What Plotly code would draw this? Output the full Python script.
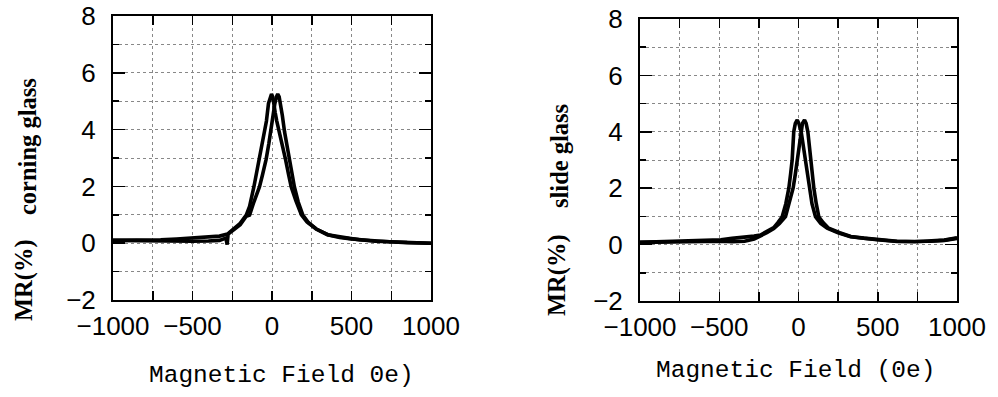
import plotly.graph_objects as go

# ---------------- data ----------------
# Left panel: corning glass, two field-sweep branches
left_a_field = [-1000, -900, -800, -700, -600, -500, -400, -330, -280, -250, -200, -162, -141,
                -114, -83, -60, -47, -35, -22, -10, -3, 5, 10, 20, 30, 47, 65, 85, 105, 121,
                150, 185, 220, 278, 350, 420, 487, 550, 650, 739, 850, 1000]
left_a_mr = [0.10, 0.10, 0.11, 0.12, 0.15, 0.19, 0.22, 0.25, 0.32, 0.46, 0.70, 0.99, 1.30,
             1.98, 2.95, 3.50, 3.92, 4.30, 4.92, 5.18, 5.25, 5.15, 4.92, 4.60, 4.30, 3.92, 3.40,
             2.95, 2.40, 1.98, 1.50, 1.00, 0.75, 0.50, 0.30, 0.22, 0.17, 0.12, 0.07, 0.05, 0.02, 0.00]

left_b_field = [-1000, -900, -800, -700, -600, -500, -400, -330, -290, -282, -276, -250, -200,
                -162, -141, -114, -79, -60, -37, -20, -9, 5, 18, 28, 36, 45, 53, 65, 79, 95, 110,
                125, 141, 165, 194, 230, 278, 350, 425, 487, 550, 650, 739, 850, 1000]
left_b_mr = [0.10, 0.09, 0.10, 0.10, 0.09, 0.07, 0.08, 0.10, 0.18, -0.05, 0.32, 0.42, 0.65,
             0.95, 0.99, 1.45, 1.98, 2.40, 2.95, 3.50, 3.92, 4.50, 4.92, 5.15, 5.25, 5.15, 4.92,
             4.50, 3.92, 3.40, 2.95, 2.45, 1.98, 1.45, 0.99, 0.72, 0.50, 0.30, 0.20, 0.16, 0.12,
             0.07, 0.05, 0.02, 0.00]

# Right panel: slide glass, two field-sweep branches
right_a_field = [-1000, -900, -800, -700, -600, -490, -420, -340, -280, -240, -200, -156, -130,
                 -103, -80, -61, -50, -40, -30, -20, -8, 2, 17, 30, 44, 65, 85, 107, 140, 181,
                 250, 328, 412, 496, 622, 733, 833, 920, 1000]
right_a_mr = [0.08, 0.10, 0.10, 0.12, 0.14, 0.17, 0.22, 0.25, 0.30, 0.34, 0.45, 0.60, 0.78,
              0.99, 1.45, 2.00, 2.50, 3.00, 4.00, 4.30, 4.42, 4.30, 4.00, 3.50, 3.00, 2.00, 1.45,
              0.99, 0.75, 0.58, 0.42, 0.28, 0.22, 0.17, 0.11, 0.11, 0.12, 0.15, 0.22]

right_b_field = [-1000, -900, -800, -700, -600, -490, -420, -340, -280, -240, -200, -156, -120,
                 -82, -60, -34, -20, -8, 13, 25, 38, 48, 59, 68, 76, 97, 112, 128, 155, 190, 260,
                 330, 412, 496, 622, 733, 833, 920, 1000]
right_b_mr = [0.08, 0.09, 0.10, 0.11, 0.12, 0.12, 0.10, 0.12, 0.20, 0.30, 0.42, 0.57, 0.75,
              0.99, 1.45, 2.00, 2.50, 3.00, 4.00, 4.30, 4.42, 4.30, 4.00, 3.50, 3.00, 2.00, 1.45,
              0.99, 0.78, 0.58, 0.42, 0.29, 0.23, 0.18, 0.12, 0.10, 0.13, 0.16, 0.24]

x_tickvals = [-1000, -500, 0, 500, 1000]
y_tickvals = [-2, 0, 2, 4, 6, 8]

# ---------------- figure ----------------
W, H = 998, 397
line = dict(color="black", width=3.6)

fig = go.Figure()
fig.add_trace(go.Scatter(x=left_a_field, y=left_a_mr, mode="lines", line=line, xaxis="x", yaxis="y"))
fig.add_trace(go.Scatter(x=left_b_field, y=left_b_mr, mode="lines", line=line, xaxis="x", yaxis="y"))
fig.add_trace(go.Scatter(x=right_a_field, y=right_a_mr, mode="lines", line=line, xaxis="x2", yaxis="y2"))
fig.add_trace(go.Scatter(x=right_b_field, y=right_b_mr, mode="lines", line=line, xaxis="x2", yaxis="y2"))

tickfont = dict(family="Liberation Sans", size=26, color="black")
grid = dict(showgrid=True, gridcolor="#888", gridwidth=1, griddash="dot")


def xax(domain, anchor):
    return dict(domain=domain, anchor=anchor, range=[-1000, 1000], tickvals=x_tickvals,
                ticks="inside", ticklen=9, tickwidth=1.5, tickcolor="black",
                showline=True, linecolor="black", linewidth=2, mirror="ticks",
                tickfont=tickfont, zeroline=False, ticklabelstandoff=2, automargin=False,
                ticklabeloverflow="allow",
                minor=dict(dtick=250, tick0=0, ticks="inside", ticklen=9, tickcolor="black",
                           showgrid=True, gridcolor="#888", griddash="dot", gridwidth=1),
                **grid)


def yax(domain, anchor):
    return dict(domain=domain, anchor=anchor, range=[-2, 8], tickvals=y_tickvals,
                ticks="inside", ticklen=12, tickwidth=1.5, tickcolor="black",
                showline=True, linecolor="black", linewidth=2, mirror="ticks",
                tickfont=tickfont, zeroline=False, ticklabelstandoff=10, automargin=False,
                ticklabeloverflow="allow",
                minor=dict(dtick=1, tick0=0, ticks="inside", ticklen=6, tickcolor="black",
                           showgrid=True, gridcolor="#888", griddash="dot", gridwidth=1),
                **grid)


def dx(a, b):
    return [a / W, b / W]


def dy(top, bottom):
    return [1 - bottom / H, 1 - top / H]


fig.update_layout(
    width=W, height=H,
    margin=dict(l=0, r=0, t=0, b=0, autoexpand=False),
    paper_bgcolor="white", plot_bgcolor="white",
    showlegend=False, hovermode=False,
    xaxis=xax(dx(113, 431), "y"),
    yaxis=yax(dy(16, 300), "x"),
    xaxis2=xax(dx(640, 957), "y2"),
    yaxis2=yax(dy(19, 301), "x2"),
)

mono = dict(family="Liberation Mono", size=24.5, color="black")
serif = dict(family="Liberation Serif", size=24.5, color="black", weight="bold")


def ann(text, px, py, font, angle=0):
    fig.add_annotation(text=text, x=px / W, y=1 - py / H,
                       xref="paper", yref="paper",
                       xanchor="center", yanchor="middle", showarrow=False,
                       textangle=angle, font=font)


ann("Magnetic Field 0e)", 281, 375, mono)
ann("Magnetic Field (0e)", 795, 370, mono)
ann("MR(%)", 24, 280, serif, -90)
ann("corning glass", 27, 147, serif, -90)
ann("MR(%)", 557, 275, serif, -90)
ann("slide glass", 559, 156, serif, -90)

fig.write_html("out.html",
               config={"displayModeBar": False, "staticPlot": True},
               post_script="document.body.style.margin='0';document.body.style.overflow='hidden';")
